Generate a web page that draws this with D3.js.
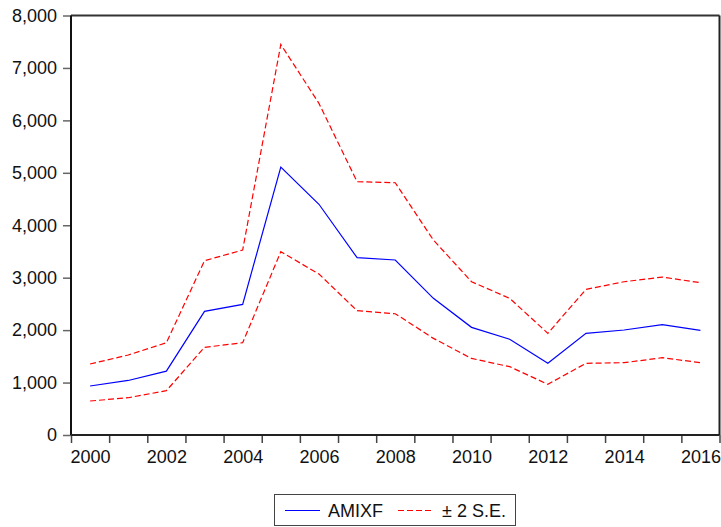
<!DOCTYPE html>
<html>
<head>
<meta charset="utf-8">
<script src="https://cdn.jsdelivr.net/npm/d3@7"></script>
<style>
  html, body { margin: 0; padding: 0; background: #fff; }
  svg { display: block; font-family: "Liberation Sans", Arial, sans-serif; }
</style>
</head>
<body>
<svg id="chart" width="721" height="527"></svg>
<script>
const years = [2000, 2001, 2002, 2003, 2004, 2005, 2006, 2007, 2008, 2009, 2010, 2011, 2012, 2013, 2014, 2015, 2016];
const amixf = [934, 1040, 1217, 2358, 2491, 5110, 4400, 3381, 3337, 2606, 2053, 1825, 1367, 1939, 2002, 2103, 1996];
const upperSE = [1354, 1525, 1760, 3324, 3527, 7448, 6324, 4830, 4811, 3718, 2923, 2606, 1939, 2778, 2923, 3012, 2904];
const lowerSE = [648, 711, 845, 1672, 1760, 3495, 3070, 2370, 2313, 1843, 1460, 1303, 967, 1367, 1379, 1474, 1379];
const yTicks = [0, 1000, 2000, 3000, 4000, 5000, 6000, 7000, 8000];
const xLabelYears = [2000, 2002, 2004, 2006, 2008, 2010, 2012, 2014, 2016];
const legendLabels = ["AMIXF", "\u00B1 2 S.E."];

const svg = d3.select("#chart");
const pL = 71, pR = 719.5, pT = 15.5, pB = 435;

const x = d3.scaleLinear().domain([2000, 2017]).range([pL, pR]);
const y = d3.scaleLinear().domain([0, 8000]).range([pB, pT]);

// Y axis
const yAxis = d3.axisLeft(y).tickValues(yTicks).tickSize(8).tickPadding(6)
  .tickFormat(d3.format(","));
const gy = svg.append("g").attr("transform", `translate(${pL},0)`).call(yAxis);
gy.select(".domain").remove();
gy.selectAll(".tick line").attr("stroke", "#666").attr("stroke-width", 1.5);
gy.selectAll(".tick text").attr("font-size", 18).attr("fill", "#111")
  .attr("font-family", "Liberation Sans, Arial, sans-serif");

// X axis: ticks at interval boundaries
const boundaries = d3.range(2000, 2018);
const xAxisTicks = d3.axisBottom(x).tickValues(boundaries).tickSize(8).tickFormat("");
const gx = svg.append("g").attr("transform", `translate(0,${pB})`).call(xAxisTicks);
gx.select(".domain").remove();
gx.selectAll(".tick line").attr("stroke", "#444").attr("stroke-width", 1.5);

// X labels at centers
const xLabels = d3.axisBottom(x).tickValues(xLabelYears.map(v => v + 0.5)).tickSize(0).tickPadding(15)
  .tickFormat(d => String(Math.floor(d)));
const gxl = svg.append("g").attr("transform", `translate(0,${pB})`).call(xLabels);
gxl.select(".domain").remove();
gxl.selectAll(".tick text").attr("font-size", 18).attr("fill", "#111")
  .attr("font-family", "Liberation Sans, Arial, sans-serif");

// Frame
svg.append("line").attr("x1", pL).attr("x2", pR).attr("y1", pT).attr("y2", pT)
  .attr("stroke", "#333").attr("stroke-width", 2);
svg.append("line").attr("x1", pR).attr("x2", pR).attr("y1", pT).attr("y2", pB)
  .attr("stroke", "#222").attr("stroke-width", 2);
svg.append("line").attr("x1", pL).attr("x2", pL).attr("y1", pT).attr("y2", pB)
  .attr("stroke", "#111").attr("stroke-width", 2);
svg.append("line").attr("x1", pL).attr("x2", pR).attr("y1", pB).attr("y2", pB)
  .attr("stroke", "#222").attr("stroke-width", 2);

const line = d3.line().x((d, i) => x(years[i] + 0.5)).y(d => y(d));

svg.append("path").datum(upperSE).attr("d", line).attr("fill", "none")
  .attr("stroke", "#ff0000").attr("stroke-width", 1.2).attr("stroke-dasharray", "6,3");
svg.append("path").datum(lowerSE).attr("d", line).attr("fill", "none")
  .attr("stroke", "#ff0000").attr("stroke-width", 1.2).attr("stroke-dasharray", "6,3");
svg.append("path").datum(amixf).attr("d", line).attr("fill", "none")
  .attr("stroke", "#0000ff").attr("stroke-width", 1.2);

// Legend
const lg = svg.append("g");
lg.append("rect").attr("x", 274.5).attr("y", 494.5).attr("width", 241).attr("height", 31)
  .attr("fill", "#fff").attr("stroke", "#444").attr("stroke-width", 1);
lg.append("line").attr("x1", 285).attr("x2", 320).attr("y1", 510.5).attr("y2", 510.5)
  .attr("stroke", "#0000ff").attr("stroke-width", 1.2);
lg.append("text").attr("x", 328).attr("y", 517).attr("font-size", 18).attr("fill", "#111")
  .text(legendLabels[0]);
lg.append("line").attr("x1", 398).attr("x2", 431).attr("y1", 510.5).attr("y2", 510.5)
  .attr("stroke", "#ff0000").attr("stroke-width", 1.2).attr("stroke-dasharray", "6,3");
lg.append("text").attr("x", 442).attr("y", 517).attr("font-size", 18).attr("fill", "#111")
  .text(legendLabels[1]);
</script>
</body>
</html>
